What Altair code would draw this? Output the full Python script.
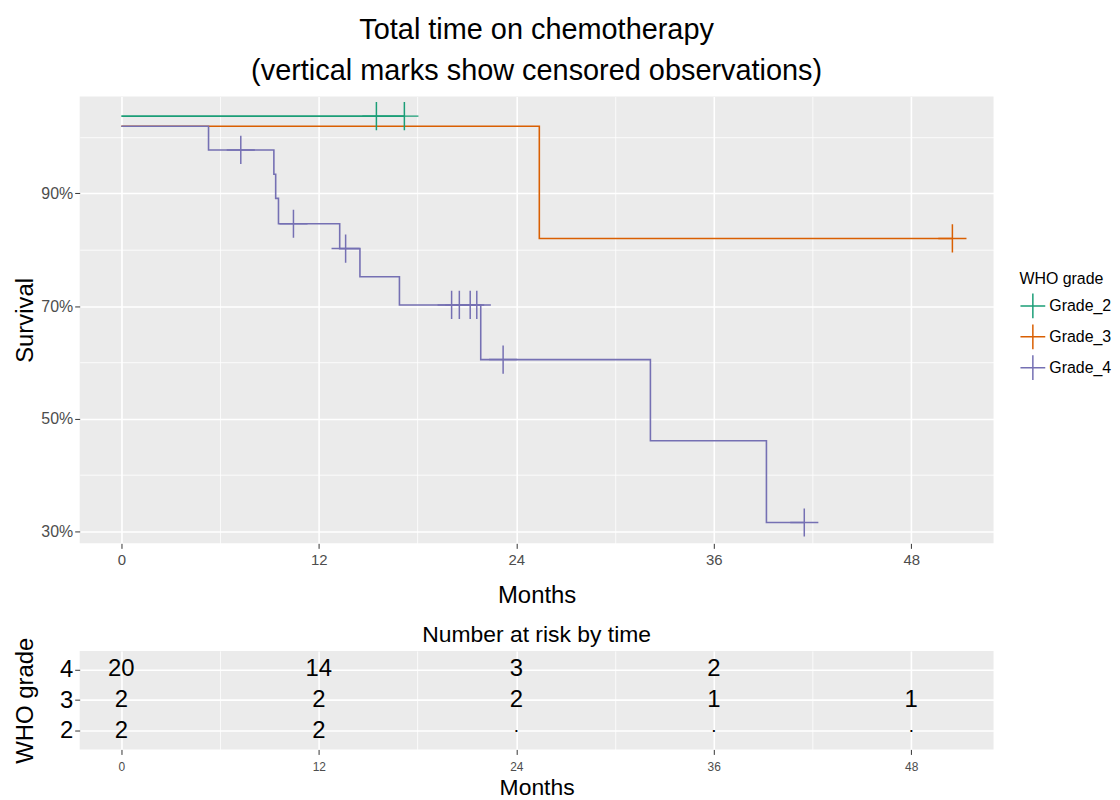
import altair as alt
import pandas as pd

FONT = "Liberation Sans"

# ---------------- data ----------------
grade_names = ["Grade_2", "Grade_3", "Grade_4"]
grade_colors = ["#1B9E77", "#D95F02", "#7570B3"]

# Kaplan-Meier step curves (months, survival fraction as read on the axis)
g2_times = [0, 17.2]
g2_surv = [1.037, 1.037]
g3_times = [0, 25.4, 50.5]
g3_surv = [1.019, 0.820, 0.820]
g4_times = [0, 5.3, 9.27, 9.38, 9.55, 13.27, 14.5, 16.9, 21.84, 32.15, 39.2, 41.5]
g4_surv = [1.019, 0.977, 0.934, 0.891, 0.846, 0.802, 0.752, 0.702, 0.605, 0.461, 0.316, 0.316]

# censored observations
g2_cens_times = [15.5, 17.2]
g2_cens_surv = [1.037, 1.037]
g3_cens_times = [50.5]
g3_cens_surv = [0.820]
g4_cens_times = [7.26, 10.46, 13.63, 20.07, 20.54, 21.2, 21.6, 23.2, 41.5]
g4_cens_surv = [0.977, 0.846, 0.802, 0.702, 0.702, 0.702, 0.702, 0.605, 0.316]

month_ticks = [0, 6, 12, 18, 24, 30, 36, 42, 48]
surv_ticks = [0.3, 0.4, 0.5, 0.6, 0.7, 0.8, 0.9, 1.0]

# number at risk table
risk_times = [0, 12, 24, 36, 48]
risk_grade4 = ["20", "14", "3", "2", ""]
risk_grade3 = ["2", "2", "2", "1", "1"]
risk_grade2 = ["2", "2", ".", ".", "."]
risk_rows = [4, 3, 2]

# ---------------- tables ----------------
steps = pd.concat([
    pd.DataFrame({"time": g2_times, "surv": g2_surv, "grade": "Grade_2"}),
    pd.DataFrame({"time": g3_times, "surv": g3_surv, "grade": "Grade_3"}),
    pd.DataFrame({"time": g4_times, "surv": g4_surv, "grade": "Grade_4"}),
], ignore_index=True)

cens = pd.concat([
    pd.DataFrame({"time": g2_cens_times, "surv": g2_cens_surv, "grade": "Grade_2"}),
    pd.DataFrame({"time": g3_cens_times, "surv": g3_cens_surv, "grade": "Grade_3"}),
    pd.DataFrame({"time": g4_cens_times, "surv": g4_cens_surv, "grade": "Grade_4"}),
], ignore_index=True)

risk = pd.concat([
    pd.DataFrame({"time": risk_times, "row": risk_rows[0], "n": risk_grade4}),
    pd.DataFrame({"time": risk_times, "row": risk_rows[1], "n": risk_grade3}),
    pd.DataFrame({"time": risk_times, "row": risk_rows[2], "n": risk_grade2}),
], ignore_index=True)
risk = risk[risk["n"] != ""]

# ---------------- styling ----------------
CROSS = "M-1,0L1,0M0,-1L0,1"
x_major = "datum.value % 12 === 0"
y_major = "round(datum.value * 100) % 20 === 10"

x_scale = alt.Scale(domain=[-2.53, 53.0], nice=False, zero=False)
y_scale = alt.Scale(domain=[0.279, 1.072], nice=False, zero=False)
color_scale = alt.Scale(domain=grade_names, range=grade_colors)


def x_axis(label_size, label_pad, title_pad, title_size):
    return alt.Axis(
        values=month_ticks, title="Months",
        labelExpr=f"{x_major} ? datum.label : ''",
        labelFontSize=label_size, labelColor="#4D4D4D", labelFont=FONT,
        labelPadding=label_pad, labelFlush=False, labelOverlap=False,
        tickSize=5, tickColor="#333333",
        tickOpacity={"condition": {"test": x_major, "value": 1}, "value": 0},
        grid=True, gridColor="white",
        gridWidth={"condition": {"test": x_major, "value": 1.6}, "value": 0.8},
        domain=False,
        titleFontSize=title_size, titleFont=FONT, titleFontWeight="normal",
        titleColor="black", titlePadding=title_pad,
    )


legend = alt.Legend(
    title="WHO grade", orient="none", legendX=944, legendY=175,
    symbolType=CROSS, symbolSize=620, symbolStrokeWidth=1.5,
    symbolFillColor="transparent",
    labelFontSize=16, titleFontSize=16, labelFont=FONT, titleFont=FONT,
    titleFontWeight="normal", labelColor="black", titleColor="black",
    padding=0, rowPadding=0, labelOffset=3, titlePadding=6,
)

y_axis = alt.Axis(
    values=surv_ticks, format=".0%", title="Survival",
    labelExpr=f"{y_major} ? datum.label : ''",
    labelFontSize=16, labelColor="#4D4D4D", labelFont=FONT, labelPadding=2,
    labelOverlap=False,
    tickSize=5, tickColor="#333333",
    tickOpacity={"condition": {"test": y_major, "value": 1}, "value": 0},
    grid=True, gridColor="white",
    gridWidth={"condition": {"test": y_major, "value": 1.6}, "value": 0.8},
    domain=False,
    titleFontSize=24, titleFont=FONT, titleFontWeight="normal",
    titleColor="black", titlePadding=3,
)

lines = alt.Chart(steps).mark_line(interpolate="step-after", strokeWidth=1.6).encode(
    x=alt.X("time:Q", scale=x_scale, axis=x_axis(15, 4, 16, 24)),
    y=alt.Y("surv:Q", scale=y_scale, axis=y_axis),
    color=alt.Color("grade:N", scale=color_scale, legend=legend),
)

marks = alt.Chart(cens).mark_point(
    shape=CROSS, size=800, filled=False, strokeWidth=1.5, opacity=1
).encode(
    x=alt.X("time:Q", scale=x_scale),
    y=alt.Y("surv:Q", scale=y_scale),
    color=alt.Color("grade:N", scale=color_scale, legend=legend),
)

main = alt.layer(lines, marks).properties(
    width=918, height=449,
    title=alt.TitleParams(
        text=["Total time on chemotherapy",
              "(vertical marks show censored observations)"],
        fontSize=29, font=FONT, fontWeight="normal", color="black",
        anchor="middle", frame="group", lineHeight=42, offset=10,
    ),
)

y_axis_bottom = alt.Axis(
    values=risk_rows, title="WHO grade", format="d",
    labelFontSize=24, labelColor="black", labelFont=FONT, labelPadding=2,
    tickSize=5, tickColor="#333333",
    grid=True, gridColor="white", gridWidth=1.6, domain=False,
    titleFontSize=24, titleFont=FONT, titleFontWeight="normal",
    titleColor="black", titlePadding=22,
)

bottom_y = alt.Y("row:Q", scale=alt.Scale(domain=[1.4, 4.6], nice=False, zero=False),
                 axis=y_axis_bottom)

numbers = alt.Chart(risk).transform_filter("datum.n !== '.'").mark_text(
    fontSize=24, font=FONT, color="black", baseline="middle"
).encode(
    x=alt.X("time:Q", scale=x_scale, axis=x_axis(12, 7, 4, 23)),
    y=bottom_y,
    text="n:N",
)

dots = alt.Chart(risk).transform_filter("datum.n === '.'").mark_text(
    fontSize=19, font=FONT, color="black", baseline="alphabetic", dy=1
).encode(
    x=alt.X("time:Q", scale=x_scale),
    y=bottom_y,
    text="n:N",
)

table = alt.layer(numbers, dots).properties(
    width=918, height=99,
    title=alt.TitleParams(
        text="Number at risk by time", fontSize=23, font=FONT,
        fontWeight="normal", color="black", anchor="middle", frame="group",
        offset=4, dy=14,
    ),
)

chart = alt.vconcat(main, table, spacing=108, bounds="flush").configure(
    font=FONT, padding={"left": 5, "top": 6, "right": 0, "bottom": 0}
).configure_view(
    fill="#EBEBEB", strokeWidth=0
)

chart.save("out.html", embed_options={"renderer": "svg", "actions": False})
